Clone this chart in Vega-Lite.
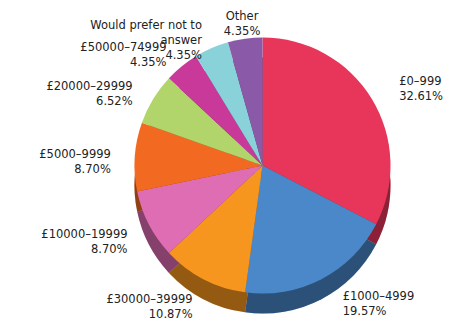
{
  "$schema": "https://vega.github.io/schema/vega-lite/v6.json",
  "width": 463,
  "height": 324,
  "autosize": {"type": "fit", "contains": "padding"},
  "padding": {"left": 62, "right": 0, "top": 4, "bottom": 0},
  "background": "white",
  "config": {"view": {"stroke": null}, "text": {"font": "DejaVu Sans", "fontSize": 11.5, "color": "#222222"}},
  "data": {"values": [
    {"band": "£0-999", "pct": 32.61, "rank": 1, "label": ["£0–999", "32.61%"]},
    {"band": "£1000-4999", "pct": 19.57, "rank": 2, "label": ["£1000–4999", "19.57%"]},
    {"band": "£30000-39999", "pct": 10.87, "rank": 3, "label": ["£30000–39999", "10.87%"]},
    {"band": "£10000-19999", "pct": 8.70, "rank": 4, "label": ["£10000–19999", "8.70%"]},
    {"band": "£5000-9999", "pct": 8.70, "rank": 5, "label": ["£5000–9999", "8.70%"]},
    {"band": "£20000-29999", "pct": 6.52, "rank": 6, "label": ["£20000–29999", "6.52%"]},
    {"band": "£50000-74999", "pct": 4.35, "rank": 7, "label": ["£50000–74999", "4.35%"]},
    {"band": "Would prefer not to answer", "pct": 4.35, "rank": 8, "label": ["Would prefer not to", "answer", "4.35%"]},
    {"band": "Other", "pct": 4.35, "rank": 9, "label": ["Other", "4.35%"]}
  ]},
  "encoding": {
    "theta": {"field": "pct", "type": "quantitative", "stack": true},
    "order": {"field": "rank", "type": "ordinal"},
    "color": {
      "field": "band", "type": "nominal", "legend": null,
      "scale": {
        "domain": ["£0-999", "£1000-4999", "£30000-39999", "£10000-19999", "£5000-9999", "£20000-29999", "£50000-74999", "Would prefer not to answer", "Other"],
        "range": ["#e8365a", "#4a88c9", "#f7961e", "#de6db3", "#f26a21", "#b1d56b", "#c9399a", "#89d2da", "#8a5aa8"]
      }
    }
  },
  "layer": [
    {"mark": {"type": "arc", "outerRadius": 128, "yOffset": 20}},
    {"mark": {"type": "arc", "outerRadius": 128, "yOffset": 20, "opacity": 0.4}, "encoding": {"color": {"value": "black"}}},
    {"mark": {"type": "arc", "outerRadius": 128}},
    {
      "mark": {"type": "text", "radius": 160, "align": "left", "baseline": "middle", "lineHeight": 15},
      "encoding": {"text": {"condition": {"test": "datum.rank == 1", "field": "label"}, "value": ""}, "color": {"value": "#222222"}}
    },
    {
      "mark": {"type": "text", "radius": 148, "dx": 12, "align": "left", "baseline": "middle", "lineHeight": 15},
      "encoding": {"text": {"condition": {"test": "datum.rank == 2", "field": "label"}, "value": ""}, "color": {"value": "#222222"}}
    },
    {
      "mark": {"type": "text", "radius": 152, "align": "right", "baseline": "middle", "lineHeight": 15},
      "encoding": {"text": {"condition": {"test": "datum.rank >= 3 && datum.rank <= 8", "field": "label"}, "value": ""}, "color": {"value": "#222222"}}
    },
    {
      "mark": {"type": "text", "radius": 150, "align": "center", "baseline": "middle", "lineHeight": 15},
      "encoding": {"text": {"condition": {"test": "datum.rank == 9", "field": "label"}, "value": ""}, "color": {"value": "#222222"}}
    }
  ]
}
